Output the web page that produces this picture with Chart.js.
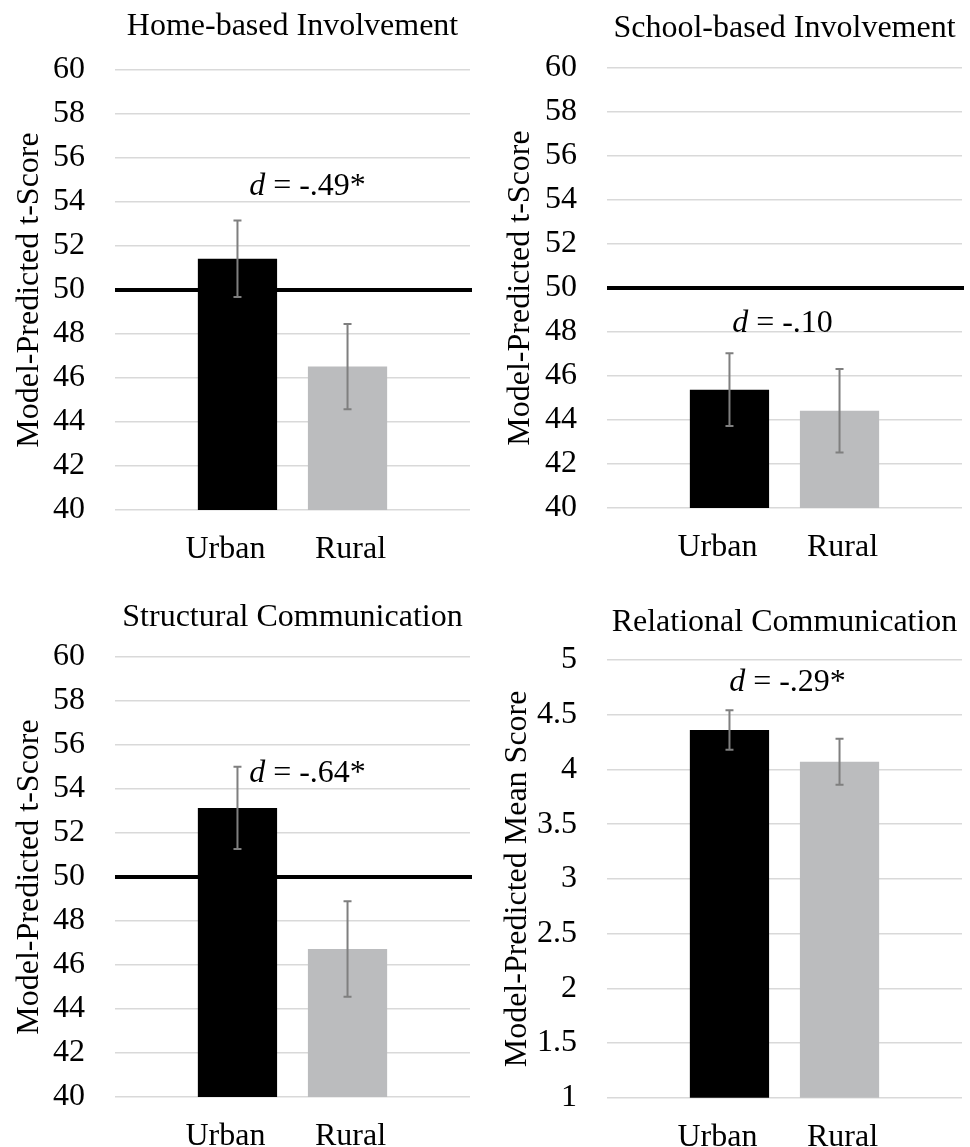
<!DOCTYPE html>
<html>
<head>
<meta charset="utf-8">
<title>Urban vs Rural</title>
<script src="https://cdn.jsdelivr.net/npm/chart.js@4.4.1/dist/chart.umd.min.js"></script>
<style>
  body { margin: 0; background: #ffffff; }
  canvas { position: absolute; }
</style>
</head>
<body>
<canvas id="grafico1" width="485" height="574" style="left:0;top:0"></canvas>
<canvas id="grafico2" width="485" height="574" style="left:485px;top:0"></canvas>
<canvas id="grafico3" width="485" height="573" style="left:0;top:574px"></canvas>
<canvas id="grafico4" width="485" height="573" style="left:485px;top:574px"></canvas>
<script>
// Datos
var grupos = ['Urban', 'Rural'];
var titulos = ['Home-based Involvement', 'School-based Involvement', 'Structural Communication', 'Relational Communication'];
var ejesY = ['Model-Predicted t-Score', 'Model-Predicted t-Score', 'Model-Predicted t-Score', 'Model-Predicted Mean Score'];
var efectos = ['-.49*', '-.10', '-.64*', '-.29*'];

var hogarMedia = [51.42, 46.52];
var hogarError = [1.74, 1.94];
var escuelaMedia = [45.38, 44.42];
var escuelaError = [1.65, 1.90];
var estructuralMedia = [53.14, 46.73];
var estructuralError = [1.87, 2.17];
var relacionalMedia = [4.36, 4.07];
var relacionalError = [0.18, 0.21];

var referenciaT = 50; // media de la escala t

var fuente = "'Liberation Serif', 'Times New Roman', serif";
var colores = ['#000000', '#bbbcbe'];
var desplazaEtiqueta = [-12, 3]; // las etiquetas no quedan justo bajo las barras

// Línea de referencia, barras de error, texto d y etiquetas de grupo
var pluginExtras = {
    id: 'extras',
    beforeDatasetsDraw: function(chart, args, opts) {
        if (opts.referencia == null) return;
        var ctx = chart.ctx;
        var area = chart.chartArea;
        var y = chart.scales.y.getPixelForValue(opts.referencia);
        ctx.save();
        ctx.strokeStyle = '#000000';
        ctx.lineWidth = 4;
        ctx.beginPath();
        ctx.moveTo(area.left, y);
        ctx.lineTo(area.right + 2, y);
        ctx.stroke();
        ctx.restore();
    },
    afterDatasetsDraw: function(chart) {
        var ctx = chart.ctx;
        var escalaY = chart.scales.y;
        ctx.save();
        ctx.strokeStyle = '#7f7f7f';
        ctx.lineWidth = 2;
        chart.data.datasets.forEach(function(ds, i) {
            var barra = chart.getDatasetMeta(i).data[0];
            var v = ds.data[0];
            var yArriba = escalaY.getPixelForValue(v + ds.error);
            var yAbajo = escalaY.getPixelForValue(v - ds.error);
            ctx.beginPath();
            ctx.moveTo(barra.x, yArriba);
            ctx.lineTo(barra.x, yAbajo);
            ctx.moveTo(barra.x - 4, yArriba);
            ctx.lineTo(barra.x + 4, yArriba);
            ctx.moveTo(barra.x - 4, yAbajo);
            ctx.lineTo(barra.x + 4, yAbajo);
            ctx.stroke();
        });
        ctx.restore();
    },
    afterDraw: function(chart, args, opts) {
        var ctx = chart.ctx;
        var area = chart.chartArea;
        ctx.save();
        ctx.fillStyle = '#000000';

        // texto del tamaño del efecto
        var parteD = 'd';
        var parteResto = ' = ' + opts.efecto;
        ctx.font = 'italic 32px ' + fuente;
        var anchoD = ctx.measureText(parteD).width;
        ctx.font = '32px ' + fuente;
        var anchoResto = ctx.measureText(parteResto).width;
        var xInicio = (area.left + area.right) / 2 + opts.efectoDx - (anchoD + anchoResto) / 2;
        var yTexto = chart.scales.y.getPixelForValue(opts.efectoValor);
        ctx.textBaseline = 'middle';
        ctx.textAlign = 'left';
        ctx.font = 'italic 32px ' + fuente;
        ctx.fillText(parteD, xInicio, yTexto);
        ctx.font = '32px ' + fuente;
        ctx.fillText(parteResto, xInicio + anchoD, yTexto);

        // etiquetas Urban / Rural bajo cada barra
        ctx.textAlign = 'center';
        ctx.textBaseline = 'alphabetic';
        chart.data.datasets.forEach(function(ds, i) {
            var barra = chart.getDatasetMeta(i).data[0];
            ctx.fillText(ds.label, barra.x + desplazaEtiqueta[i], area.bottom + 48);
        });
        ctx.restore();
    }
};

function crearGrafico(id, n, media, error, op) {
    return new Chart(document.getElementById(id), {
        type: 'bar',
        data: {
            labels: [''],
            datasets: [
                { label: grupos[0], data: [media[0]], error: error[0], backgroundColor: colores[0] },
                { label: grupos[1], data: [media[1]], error: error[1], backgroundColor: colores[1] }
            ]
        },
        options: {
            responsive: false,
            animation: false,
            events: [],
            layout: { padding: { top: 0, right: op.derecha, bottom: 0, left: 0 } },
            datasets: { bar: { categoryPercentage: 0.62, barPercentage: 0.72 } },
            plugins: {
                legend: { display: false },
                tooltip: { enabled: false },
                title: {
                    display: true,
                    text: titulos[n],
                    fullSize: false,
                    color: '#000000',
                    font: { family: fuente, size: 32, weight: 'normal' },
                    padding: { top: op.tituloArriba, bottom: op.tituloAbajo }
                },
                extras: {
                    referencia: op.referencia,
                    efecto: efectos[n],
                    efectoValor: op.efectoValor,
                    efectoDx: op.efectoDx
                }
            },
            scales: {
                x: {
                    grid: { display: false },
                    border: { display: false },
                    ticks: { display: false },
                    afterFit: function(s) { s.height = op.altoX; }
                },
                y: {
                    min: op.min,
                    max: op.max,
                    ticks: {
                        stepSize: op.paso,
                        padding: 30,
                        color: '#000000',
                        font: { family: fuente, size: 32 },
                        callback: function(v) { return String(v); }
                    },
                    grid: { color: '#d9d9d9', lineWidth: 1.5, drawTicks: false },
                    border: { display: false },
                    title: {
                        display: true,
                        text: ejesY[n],
                        color: '#000000',
                        font: { family: fuente, size: 32 },
                        padding: { top: op.ejePad, bottom: 0 }
                    },
                    afterFit: function(s) { s.width = op.anchoY; }
                }
            }
        },
        plugins: [pluginExtras]
    });
}

crearGrafico('grafico1', 0, hogarMedia, hogarError, {
    derecha: 15, tituloArriba: 7, tituloAbajo: 24.6, altoX: 64, anchoY: 115, ejePad: 10,
    referencia: referenciaT, efectoValor: 54.7, efectoDx: 15, min: 40, max: 60, paso: 2
});
crearGrafico('grafico2', 1, escuelaMedia, escuelaError, {
    derecha: 8, tituloArriba: 9.4, tituloAbajo: 20.2, altoX: 66, anchoY: 122, ejePad: 16,
    referencia: referenciaT, efectoValor: 48.4, efectoDx: -2, min: 40, max: 60, paso: 2
});
crearGrafico('grafico3', 2, estructuralMedia, estructuralError, {
    derecha: 15, tituloArriba: 24, tituloAbajo: 20.6, altoX: 50, anchoY: 115, ejePad: 10,
    referencia: referenciaT, efectoValor: 54.7, efectoDx: 15, min: 40, max: 60, paso: 2
});
crearGrafico('grafico4', 3, relacionalMedia, relacionalError, {
    derecha: 8, tituloArriba: 29, tituloAbajo: 18.6, altoX: 47, anchoY: 122, ejePad: 13,
    referencia: null, efectoValor: 4.79, efectoDx: 3, min: 1, max: 5, paso: 0.5
});
</script>
</body>
</html>
